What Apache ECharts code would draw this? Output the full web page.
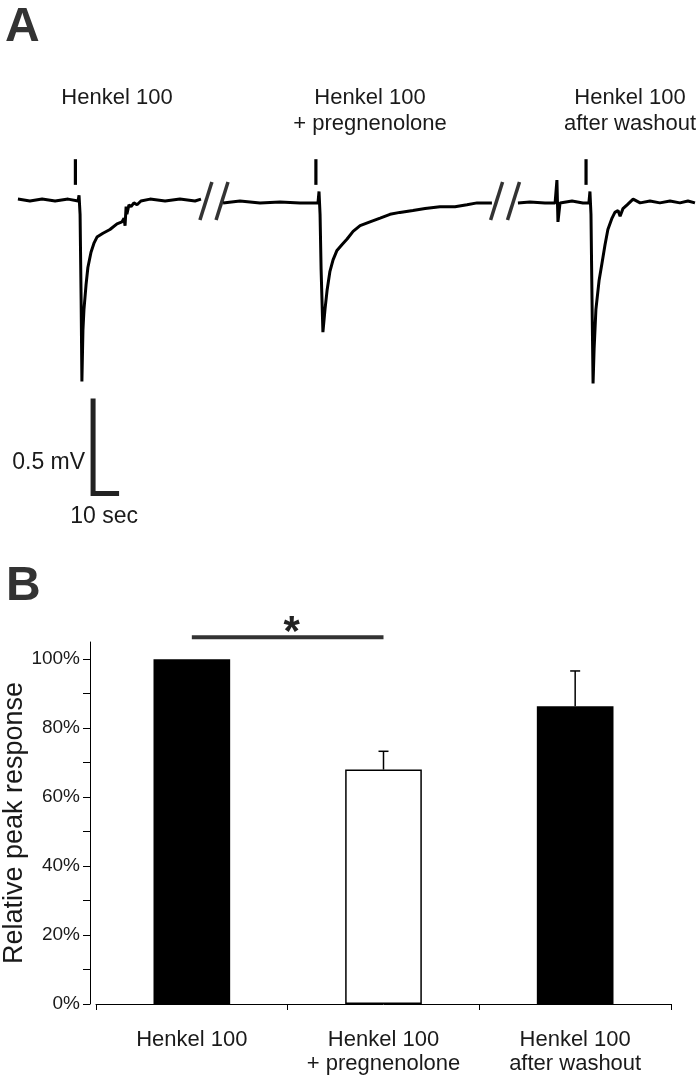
<!DOCTYPE html>
<html><head><meta charset="utf-8">
<script src="https://cdn.jsdelivr.net/npm/echarts@6/dist/echarts.min.js"></script>
<style>html,body{margin:0;padding:0;background:#fff}#c{width:700px;height:1079px}</style>
</head><body><div id="c"></div>
<script>
// ---------- data ----------
const categories = ['Henkel 100', 'Henkel 100\n+ pregnenolone', 'Henkel 100\nafter washout'];
const relativePeak = [100, 68, 86.4];     // % of control
const peakError = [0, 5.3, 10.2];          // upper error (SEM), %
const yLabelValues = [0, 20, 40, 60, 80, 100];
const yTickValues = [0, 10, 20, 30, 40, 50, 60, 70, 80, 90, 100];
const significantPair = [0, 1];

// traces: [time (s), voltage (mV)]
const trace1 = [[6.9,0.01],[11.5,0.00],[16.2,0.01],[21.2,0.00],[26.2,0.01],[30.0,0.00],[30.4,0.03],[30.8,-0.07],[31.2,-0.52],[31.5,-0.95],[31.9,-0.68],[32.3,-0.57],[33.1,-0.44],[33.8,-0.35],[35.0,-0.27],[36.2,-0.22],[37.3,-0.19],[39.6,-0.17],[42.3,-0.15],[45.0,-0.12],[46.9,-0.11],[47.7,-0.09],[48.1,-0.13],[48.5,-0.03],[48.8,-0.07],[49.6,-0.02],[50.4,-0.03],[51.5,-0.01],[52.7,-0.02],[54.2,0.00],[57.7,0.01],[63.5,0.00],[69.2,0.01],[75.0,0.00],[77.3,0.01]];
const trace2 = [[85.8,-0.01],[92.3,0.00],[100.0,-0.01],[107.7,-0.005],[115.4,-0.01],[121.5,-0.01],[122.3,-0.01],[122.7,0.05],[123.1,-0.07],[123.5,-0.36],[124.2,-0.69],[125.0,-0.57],[125.8,-0.47],[126.9,-0.37],[128.1,-0.31],[129.6,-0.26],[131.5,-0.23],[133.5,-0.20],[135.8,-0.16],[138.5,-0.13],[142.3,-0.11],[146.2,-0.09],[150.0,-0.07],[153.8,-0.06],[158.8,-0.05],[163.5,-0.04],[169.2,-0.03],[175.0,-0.03],[179.6,-0.02],[183.5,-0.01],[189.2,-0.01]];
const trace3 = [[199.2,-0.01],[203.8,-0.005],[209.6,-0.01],[213.5,-0.01],[214.2,0.11],[214.6,-0.11],[215.4,-0.01],[220.0,0.00],[224.2,-0.01],[226.5,-0.01],[226.9,0.05],[227.3,-0.07],[227.7,-0.52],[228.1,-0.96],[228.5,-0.78],[229.2,-0.57],[230.4,-0.42],[231.5,-0.33],[232.7,-0.23],[233.8,-0.15],[235.4,-0.09],[236.5,-0.06],[237.7,-0.05],[238.5,-0.08],[239.6,-0.04],[241.2,-0.02],[243.5,0.01],[246.2,-0.01],[250.0,0.00],[253.8,-0.01],[257.7,0.00],[261.5,-0.01],[264.6,0.00],[267.3,-0.01]];
const stimTimes = [29.0, 121.5, 225.4];
const breakTimes = [79.2, 85.4, 191.0, 197.5];
const scaleBarVolt = 0.5;   // mV
const scaleBarTime = 10;    // sec

// ---------- chart ----------
const chart = echarts.init(document.getElementById('c'));
const FONT = 'Liberation Sans, Arial, sans-serif';
const ink = '#1a1a1a';

const option = {
  animation: false,
  backgroundColor: '#fff',
  textStyle: { fontFamily: FONT },
  grid: [
    { left: 0, top: 11, width: 700, height: 532, containLabel: false, outerBoundsMode: 'none' },
    { left: 96, right: 29, top: 642, bottom: 75, containLabel: false, outerBoundsMode: 'none' }
  ],
  xAxis: [
    { gridIndex: 0, type: 'value', min: 0, max: 700 / 2.6, show: false },
    { gridIndex: 1, type: 'category', data: categories,
      axisLine: { lineStyle: { color: '#000', width: 1 } },
      axisTick: { show: true, length: 6, lineStyle: { color: '#000' } },
      axisLabel: { interval: 0, fontSize: 22, lineHeight: 24, color: ink, margin: 24, fontFamily: FONT } }
  ],
  yAxis: [
    { gridIndex: 0, type: 'value', min: -1.8, max: 1.0, show: false },
    { gridIndex: 1, type: 'value', min: 0, max: 105, offset: 6,
      name: 'Relative peak response', nameLocation: 'middle', nameRotate: 90, nameGap: 62,
      nameMoveOverlap: false,
      nameTextStyle: { fontSize: 27, color: ink, fontFamily: FONT },
      splitLine: { show: false },
      axisLine: { show: true, lineStyle: { color: '#000', width: 1 } },
      axisTick: { show: true, length: 7, lineStyle: { color: '#000' }, customValues: yTickValues },
      axisLabel: { fontSize: 19, color: ink, margin: 10, fontFamily: FONT,
        customValues: yLabelValues, formatter: v => v + '%' } }
  ],
  series: [
    ...[trace1, trace2, trace3].map(tr => ({
      type: 'line', xAxisIndex: 0, yAxisIndex: 0, data: tr, symbol: 'none',
      lineStyle: { color: '#000', width: 3 }, silent: true
    })),
    { // stimulus marks
      type: 'custom', xAxisIndex: 0, yAxisIndex: 0, data: stimTimes.map(t => [t]),
      renderItem: (p, api) => {
        const a = api.coord([api.value(0), 0.22]), b = api.coord([api.value(0), 0.085]);
        return { type: 'line', shape: { x1: a[0], y1: a[1], x2: b[0], y2: b[1] }, style: { stroke: '#000', lineWidth: 3.2 } };
      }
    },
    { // axis-break marks
      type: 'custom', xAxisIndex: 0, yAxisIndex: 0, data: breakTimes.map(t => [t]),
      renderItem: (p, api) => {
        const a = api.coord([api.value(0) - 2.3, -0.10]), b = api.coord([api.value(0) + 2.3, 0.10]);
        return { type: 'line', shape: { x1: a[0], y1: a[1], x2: b[0], y2: b[1] }, style: { stroke: '#333', lineWidth: 3.5 } };
      }
    },
    { // scale bar
      type: 'custom', xAxisIndex: 0, yAxisIndex: 0, data: [[35.8, -1.54]],
      renderItem: (p, api) => {
        const t0 = api.value(0), v0 = api.value(1);
        const top = api.coord([t0, v0 + scaleBarVolt]), c = api.coord([t0, v0]), r = api.coord([t0 + scaleBarTime, v0]);
        return { type: 'group', children: [
          { type: 'polyline', shape: { points: [top, c, r] }, style: { stroke: '#222', lineWidth: 5, fill: null, lineJoin: 'miter' } },
          { type: 'text', x: c[0] - 8, y: c[1] - 31, style: { text: scaleBarVolt + ' mV', font: '23px ' + FONT, fill: ink, align: 'right', verticalAlign: 'middle' } },
          { type: 'text', x: (c[0] + r[0]) / 2 - 2, y: c[1] + 23, style: { text: scaleBarTime + ' sec', font: '23px ' + FONT, fill: ink, align: 'center', verticalAlign: 'middle' } }
        ] };
      }
    },
    { // bars
      type: 'bar', xAxisIndex: 1, yAxisIndex: 1, barWidth: '40%',
      data: relativePeak.map((v, i) => ({ value: v,
        itemStyle: i === 1 ? { color: '#fff', borderColor: '#000', borderWidth: 1.5 } : { color: '#000' } }))
    },
    { // error bars
      type: 'custom', xAxisIndex: 1, yAxisIndex: 1, z: 5,
      data: relativePeak.map((v, i) => [i, v, peakError[i]]),
      renderItem: (p, api) => {
        const i = api.value(0), v = api.value(1), e = api.value(2);
        if (!e) return null;
        const top = api.coord([i, v + e]), bot = api.coord([i, v]);
        return { type: 'group', children: [
          { type: 'line', shape: { x1: top[0], y1: top[1], x2: bot[0], y2: bot[1] }, style: { stroke: '#000', lineWidth: 1.5 } },
          { type: 'line', shape: { x1: top[0] - 5, y1: top[1], x2: top[0] + 5, y2: top[1] }, style: { stroke: '#000', lineWidth: 1.5 } }
        ] };
      }
    },
    { // significance bracket
      type: 'custom', xAxisIndex: 1, yAxisIndex: 1, clip: false,
      data: [significantPair],
      renderItem: (p, api) => {
        const a = api.coord([api.value(0), 106.4]), b = api.coord([api.value(1), 106.4]);
        return { type: 'group', children: [
          { type: 'line', shape: { x1: a[0], y1: a[1], x2: b[0], y2: b[1] }, style: { stroke: '#333', lineWidth: 4 } },
          { type: 'text', x: (a[0] + b[0]) / 2 + 4, y: a[1] - 4, style: { text: '*', font: 'bold 42px ' + FONT, fill: '#222', align: 'center', verticalAlign: 'middle' } }
        ] };
      }
    }
  ],
  graphic: [
    { type: 'text', x: 5, y: 4, style: { text: 'A', font: 'bold 48px ' + FONT, fill: '#333' } },
    { type: 'text', x: 6, y: 563, style: { text: 'B', font: 'bold 48px ' + FONT, fill: '#333' } },
    ...categories.map((c, i) => ({
      type: 'text', x: [117, 370, 630][i], y: 85,
      style: { text: c, font: '22px ' + FONT, lineHeight: 26, fill: ink, align: 'center', verticalAlign: 'top' }
    }))
  ]
};
chart.setOption(option);
</script></body></html>
